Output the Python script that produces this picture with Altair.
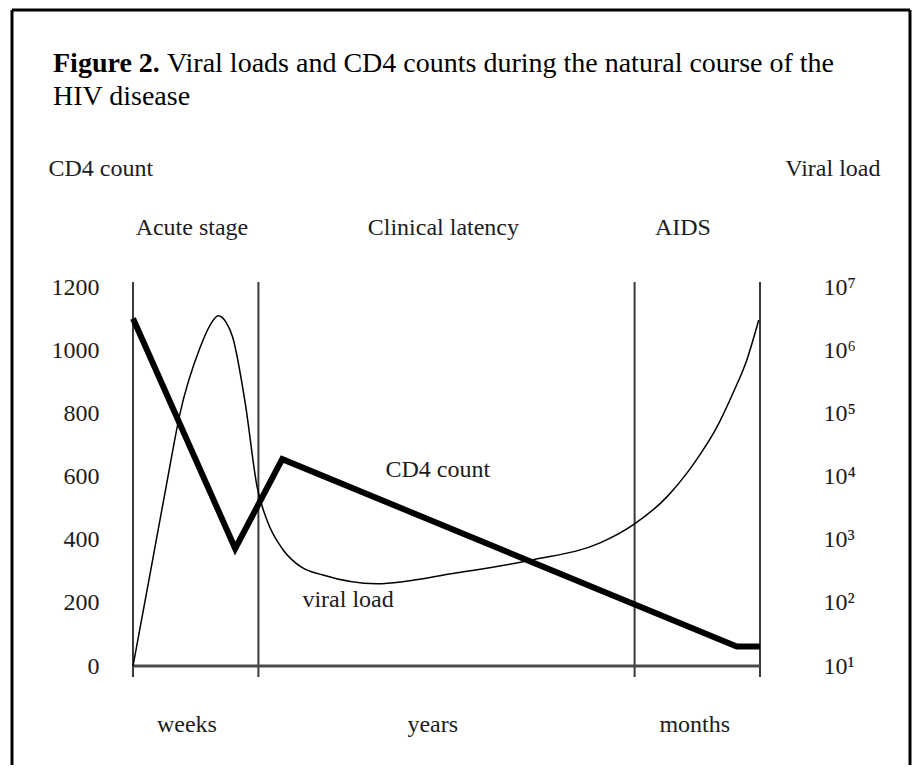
import altair as alt
import pandas as pd

# ---------------- data ----------------
title_bold = "Figure 2."
title_rest = "Viral loads and CD4 counts during the natural course of the"
title_line2 = "HIV disease"

phase_t = [0, 20, 80, 100]                      # stage boundaries (relative time)
stage_labels = ["Acute stage", "Clinical latency", "AIDS"]
stage_label_t = [9.4, 49.5, 87.7]
time_labels = ["weeks", "years", "months"]
time_label_t = [8.6, 47.8, 89.6]

cd4_t = [0, 16.3, 23.8, 96.3, 100]
cd4_count = [1100, 372, 655, 62, 62]

vl_t = [0, 2.7, 5.4, 7.5, 10.7, 12.3, 13.6, 14.8, 15.9, 17.9, 19.8, 21.4,
        23.9, 26.8, 30.3, 38.9, 51.7, 63.8, 74.5, 79.7, 85.2, 88.4, 90.4,
        93.1, 95.7, 97.9, 99.8]
vl_copies = [10, 280, 8000, 100000, 1100000, 2500000, 3500000, 2800000,
             1600000, 145000, 6800, 2000, 700, 370, 275, 200, 300, 480,
             890, 1700, 4800, 11500, 22000, 60000, 210000, 700000, 3000000]

cd4_ticks = [0, 200, 400, 600, 800, 1000, 1200]
vl_ticks = [10, 100, 1000, 10000, 100000, 1000000, 10000000]

series_labels = ["CD4 count", "viral load"]
series_label_t = [48.6, 34.3]
series_label_cd4 = [620, 209]

# ---------------- layout ----------------
W, H = 627, 379
FONT = "Liberation Serif"
TXT = "#1c1c1c"
LBL = 24
TFS = 28

x_scale = alt.Scale(domain=[0, 100], nice=False, zero=False)
y_scale = alt.Scale(domain=[0, 1200], nice=False)
v_scale = alt.Scale(type="log", domain=[10, 10000000], nice=False)

one = pd.DataFrame({"a": [0]})

# frame around the figure
frame_left = alt.Chart(one).mark_rule(color="black", strokeWidth=3).encode(
    x=alt.value(-121), y=alt.value(-277), y2=alt.value(478))
frame_top = alt.Chart(one).mark_rule(color="black", strokeWidth=3).encode(
    x=alt.value(-121), x2=alt.value(777), y=alt.value(-277))
frame_right = alt.Chart(one).mark_rule(color="black", strokeWidth=3).encode(
    x=alt.value(777), y=alt.value(-277), y2=alt.value(478))

# title
t_bold = alt.Chart(one).mark_text(font=FONT, fontSize=TFS, fontWeight="bold",
                                  align="left", baseline="alphabetic", color="black").encode(
    x=alt.value(-80), y=alt.value(-215), text=alt.value(title_bold))
t_rest = alt.Chart(one).mark_text(font=FONT, fontSize=TFS, align="left",
                                  baseline="alphabetic", color="black").encode(
    x=alt.value(34), y=alt.value(-215), text=alt.value(title_rest))
t_line2 = alt.Chart(one).mark_text(font=FONT, fontSize=TFS, align="left",
                                   baseline="alphabetic", color="black").encode(
    x=alt.value(-80), y=alt.value(-182), text=alt.value(title_line2))

# stage boundaries
phase_df = pd.DataFrame({"t": phase_t})
vlines = alt.Chart(phase_df).mark_rule(color="#3a3a3a", strokeWidth=2).encode(
    x=alt.X("t:Q", scale=x_scale, axis=None),
    y=alt.value(-5), y2=alt.value(390))

base_df = pd.DataFrame({"t0": [phase_t[0]], "t1": [phase_t[-1]], "y": [0]})
baseline = alt.Chart(base_df).mark_rule(color="#4a4a4a", strokeWidth=3).encode(
    x=alt.X("t0:Q", scale=x_scale, axis=None), x2="t1:Q",
    y=alt.Y("y:Q", scale=y_scale))

cd4_df = pd.DataFrame({"t": cd4_t, "cd4": cd4_count})
cd4_line = alt.Chart(cd4_df).mark_line(color="black", strokeWidth=6,
                                       strokeJoin="miter").encode(
    x=alt.X("t:Q", scale=x_scale, axis=None),
    y=alt.Y("cd4:Q", scale=y_scale,
            axis=alt.Axis(values=cd4_ticks, format="d", title="CD4 count",
                          domain=False, ticks=False, grid=False, labelPadding=34,
                          labelFont=FONT, labelFontSize=LBL, labelColor=TXT,
                          titleFont=FONT, titleFontSize=LBL, titleColor=TXT,
                          titleFontWeight="normal", titleAngle=0,
                          titleX=-85, titleY=-119, titleAlign="left",
                          titleBaseline="middle")))

stage_df = pd.DataFrame({"t": stage_label_t, "label": stage_labels, "y": [1387] * 3})
stage_txt = alt.Chart(stage_df).mark_text(font=FONT, fontSize=LBL, color=TXT,
                                          baseline="middle").encode(
    x=alt.X("t:Q", scale=x_scale, axis=None),
    y=alt.Y("y:Q", scale=y_scale), text="label:N")

time_df = pd.DataFrame({"t": time_label_t, "label": time_labels, "y": [-187] * 3})
time_txt = alt.Chart(time_df).mark_text(font=FONT, fontSize=LBL, color=TXT,
                                        baseline="middle").encode(
    x=alt.X("t:Q", scale=x_scale, axis=None),
    y=alt.Y("y:Q", scale=y_scale), text="label:N")

ser_df = pd.DataFrame({"t": series_label_t, "label": series_labels, "y": series_label_cd4})
ser_txt = alt.Chart(ser_df).mark_text(font=FONT, fontSize=LBL, color=TXT,
                                      baseline="middle").encode(
    x=alt.X("t:Q", scale=x_scale, axis=None),
    y=alt.Y("y:Q", scale=y_scale), text="label:N")

left_layer = alt.layer(frame_left, frame_top, frame_right, t_bold, t_rest, t_line2,
                       vlines, baseline, cd4_line, stage_txt, time_txt, ser_txt)

sup_expr = ("'10' + ['\u2070','\u00b9','\u00b2','\u00b3','\u2074','\u2075','\u2076','\u2077']"
            "[round(log(datum.value)/LN10)]")

vl_df = pd.DataFrame({"t": vl_t, "vl": vl_copies})
vl_line = alt.Chart(vl_df).mark_line(color="black", strokeWidth=1.5,
                                     interpolate="monotone").encode(
    x=alt.X("t:Q", scale=x_scale, axis=None),
    y=alt.Y("vl:Q", scale=v_scale,
            axis=alt.Axis(orient="right", values=vl_ticks, labelExpr=sup_expr,
                          title="Viral load", domain=False, ticks=False, grid=False,
                          labelPadding=63, labelFont=FONT, labelFontSize=LBL,
                          labelColor=TXT, titleFont=FONT, titleFontSize=LBL,
                          titleColor=TXT, titleFontWeight="normal", titleAngle=0,
                          titleX=120, titleY=-119, titleAlign="right",
                          titleBaseline="middle")))

chart = alt.layer(left_layer, vl_line).resolve_scale(y="independent").properties(
    width=W, height=H,
    autosize=alt.AutoSizeParams(type="none"),
    padding={"left": 125, "top": 279, "right": 152, "bottom": 99},
    background="white",
).configure_view(stroke=None)

chart.save("out.html", embed_options={"renderer": "svg", "actions": False})
